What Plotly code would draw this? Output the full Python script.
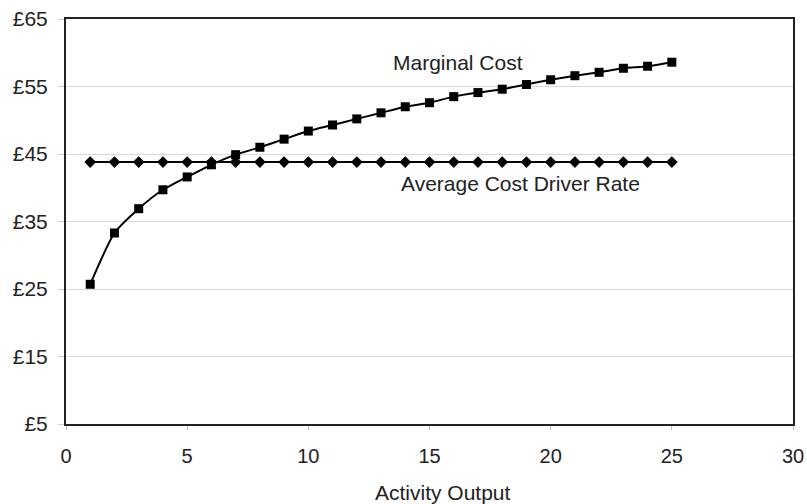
import plotly.graph_objects as go

activity = list(range(1, 26))
marginal_cost = [25.7, 33.3, 36.9, 39.7, 41.6, 43.4, 44.9, 46.0, 47.2, 48.4,
                 49.3, 50.2, 51.1, 52.0, 52.6, 53.5, 54.1, 54.6, 55.3, 56.0,
                 56.6, 57.1, 57.7, 58.0, 58.6]
avg_rate = [43.8] * 25
y_ticks = [5, 15, 25, 35, 45, 55, 65]
y_tick_text = ["£5", "£15", "£25", "£35", "£45", "£55", "£65"]
x_ticks = [0, 5, 10, 15, 20, 25, 30]

font = "Liberation Sans, Arial, sans-serif"

fig = go.Figure()
fig.add_trace(go.Scatter(
    x=activity, y=avg_rate, mode="lines+markers", name="Average Cost Driver Rate",
    line=dict(color="black", width=2),
    marker=dict(symbol="diamond", size=9, color="black"),
))
fig.add_trace(go.Scatter(
    x=activity, y=marginal_cost, mode="lines+markers", name="Marginal Cost",
    line=dict(color="black", width=2, shape="spline", smoothing=0.6),
    marker=dict(symbol="square", size=9, color="black"),
))

fig.add_annotation(x=16.18, y=58.6, text="Marginal Cost", showarrow=False,
                   font=dict(family=font, size=21, color="#222"))
fig.add_annotation(x=18.74, y=40.7, text="Average Cost Driver Rate", showarrow=False,
                   font=dict(family=font, size=21, color="#222"))
fig.add_annotation(x=15.56, y=-0.168, yref="paper", yanchor="middle",
                   text="Activity Output", showarrow=False,
                   font=dict(family=font, size=21, color="#222"))

fig.update_layout(
    width=807, height=504,
    margin=dict(l=66, r=14, t=19, b=80),
    paper_bgcolor="white", plot_bgcolor="white",
    showlegend=False,
    font=dict(family=font, size=20, color="#222"),
    xaxis=dict(range=[0, 30], tickvals=x_ticks, showgrid=False, zeroline=False,
               showline=True, linecolor="#222", linewidth=2, mirror=True,
               ticks="outside", ticklen=4, tickcolor="#bbb", automargin=False,
               ticklabelstandoff=9, tickfont=dict(size=20)),
    yaxis=dict(range=[5, 65], tickvals=y_ticks, ticktext=y_tick_text,
               showgrid=True, gridcolor="#d8d8d8", gridwidth=1, zeroline=False,
               showline=True, linecolor="#222", linewidth=2, mirror=True,
               ticks="outside", ticklen=6, tickcolor="#ccc", automargin=False,
               ticklabelstandoff=6, tickfont=dict(size=21)),
)

fig.write_html("out.html", config={"displayModeBar": False},
               post_script="document.body.style.margin='0';")
